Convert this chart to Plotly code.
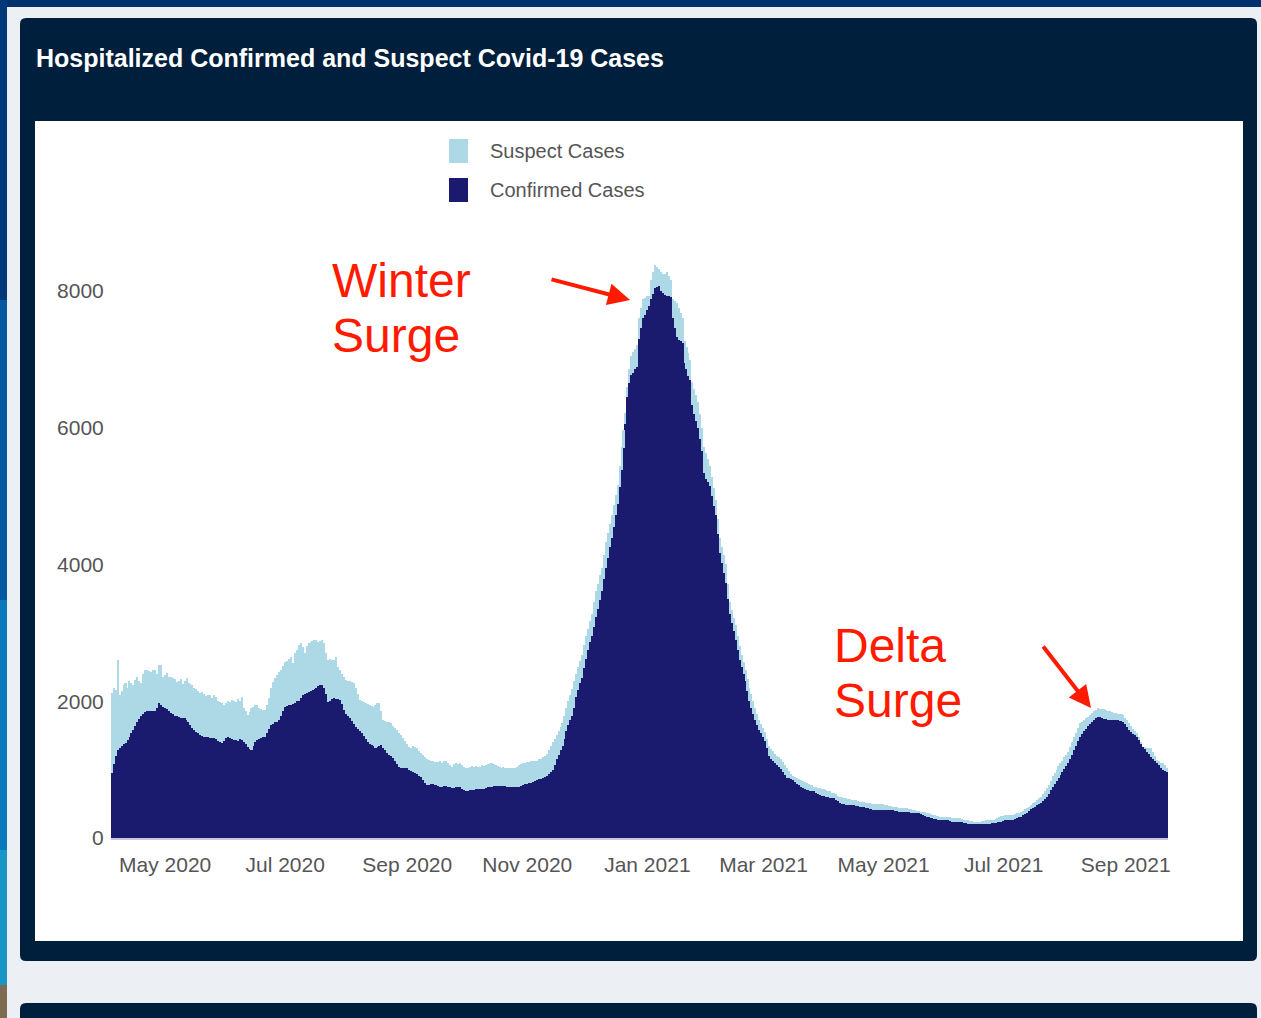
import numpy as np
import pandas as pd
import plotly.graph_objects as go

# ---------------- data (daily values) ----------------
start_date = "2020-04-04"

confirmed_cases = [
    950, 1080, 1200, 1290, 1320, 1350, 1380, 1390, 1430, 1480,
    1530, 1580, 1640, 1700, 1740, 1780, 1810, 1840, 1850, 1850,
    1850, 1860, 1860, 1900, 1970, 1950, 1920, 1900, 1880, 1850,
    1830, 1810, 1790, 1780, 1770, 1760, 1760, 1750, 1720, 1690,
    1650, 1610, 1580, 1550, 1530, 1510, 1490, 1480, 1470, 1470,
    1460, 1460, 1460, 1440, 1420, 1400, 1390, 1420, 1460, 1480,
    1460, 1440, 1430, 1430, 1420, 1440, 1430, 1400, 1370, 1330,
    1300, 1290, 1340, 1400, 1430, 1450, 1460, 1470, 1480, 1530,
    1590, 1650, 1670, 1690, 1700, 1720, 1790, 1860, 1920, 1930,
    1940, 1940, 1960, 1980, 2000, 2010, 2040, 2090, 2100, 2120,
    2140, 2150, 2160, 2180, 2200, 2220, 2240, 2230, 2190, 2100,
    1990, 2010, 2030, 2040, 2030, 2030, 2020, 1960, 1870, 1820,
    1780, 1750, 1710, 1660, 1620, 1590, 1560, 1530, 1490, 1440,
    1400, 1380, 1360, 1340, 1320, 1330, 1350, 1360, 1320, 1280,
    1240, 1220, 1200, 1170, 1130, 1080, 1040, 1030, 1030, 1020,
    1020, 1000, 980, 960, 950, 930, 910, 890, 850, 810,
    780, 780, 790, 790, 780, 770, 760, 750, 750, 760,
    760, 750, 740, 730, 730, 740, 740, 740, 720, 700,
    690, 690, 700, 700, 700, 710, 710, 710, 720, 720,
    730, 740, 750, 750, 760, 760, 760, 760, 760, 760,
    760, 750, 750, 740, 740, 740, 750, 750, 760, 770,
    790, 790, 800, 810, 820, 830, 850, 860, 860, 870,
    890, 900, 930, 960, 990, 1060, 1150, 1220, 1290, 1345,
    1450, 1565, 1650, 1720, 1785, 1900, 2060, 2160, 2260, 2340,
    2480, 2620, 2750, 2860, 2950, 3080, 3230, 3350, 3480, 3610,
    3780, 3950, 4100, 4250, 4390, 4550, 4720, 4880, 5130, 5380,
    5700, 6050, 6450, 6650, 6770, 6800, 6850, 6890, 7300, 7450,
    7600, 7650, 7720, 7770, 7880, 7950, 8040, 8060, 8070, 8000,
    7960, 7940, 7930, 7920, 7910, 7600, 7450, 7330, 7280, 7260,
    7240, 6940, 6850, 6760, 6690, 6330, 6200, 6100, 6000, 5830,
    5660, 5330, 5250, 5200, 5140, 5000, 4860, 4720, 4450, 4170,
    4020, 3880, 3730, 3500, 3280, 3150, 3020, 2890, 2750, 2600,
    2500, 2400, 2300, 2150, 2000, 1900, 1820, 1730, 1650, 1580,
    1530, 1480, 1420, 1310, 1200, 1160, 1130, 1100, 1070, 1040,
    1010, 960, 920, 880, 870, 860, 850, 820, 790, 770,
    750, 730, 720, 700, 700, 690, 680, 680, 660, 640,
    630, 620, 610, 600, 595, 590, 585, 585, 560, 535,
    510, 500, 490, 480, 480, 480, 480, 480, 470, 465,
    460, 455, 450, 445, 440, 430, 420, 410, 410, 410,
    410, 410, 410, 410, 410, 410, 410, 410, 400, 390,
    385, 385, 385, 385, 380, 375, 370, 370, 365, 360,
    360, 345, 330, 315, 310, 305, 295, 290, 285, 275,
    270, 265, 265, 265, 265, 260, 250, 240, 240, 240,
    240, 240, 230, 220, 215, 210, 210, 205, 205, 205,
    205, 205, 205, 205, 205, 205, 210, 215, 215, 225,
    240, 240, 240, 250, 260, 265, 265, 270, 270, 280,
    290, 300, 310, 330, 350, 370, 395, 420, 440, 460,
    485, 500, 510, 540, 570, 600, 650, 700, 750, 790,
    830, 880, 920, 960, 1010, 1050, 1095, 1160, 1220, 1290,
    1350, 1420, 1480, 1520, 1560, 1600, 1630, 1670, 1700, 1725,
    1750, 1775, 1770, 1760, 1740, 1735, 1730, 1725, 1725, 1725,
    1725, 1720, 1715, 1710, 1700, 1660, 1620, 1580, 1550, 1520,
    1500, 1480, 1430, 1380, 1335, 1300, 1260, 1230, 1190, 1160,
    1120, 1090, 1060, 1030, 995, 980, 970,
]

# top of each stacked bar (confirmed + suspect)
total_hospitalized = [
    2120, 2200, 2160, 2600, 2090, 2150, 2240, 2270, 2200, 2290,
    2260, 2240, 2310, 2350, 2300, 2270, 2400, 2460, 2450, 2440,
    2430, 2450, 2450, 2400, 2530, 2530, 2350, 2380, 2410, 2360,
    2350, 2340, 2330, 2280, 2300, 2320, 2250, 2300, 2340, 2270,
    2250, 2230, 2190, 2180, 2150, 2120, 2130, 2100, 2080, 2090,
    2090, 2050, 2090, 2060, 2000, 1990, 1970, 1950, 1980, 2010,
    1990, 2020, 2010, 1990, 2030, 2000, 2060, 1900, 1850, 1800,
    1840, 1900, 1920, 1940, 1940, 1900, 1880, 1870, 1870, 1940,
    2050, 2200, 2280, 2340, 2380, 2430, 2450, 2520, 2570, 2590,
    2620, 2650, 2560, 2700, 2750, 2820, 2850, 2790, 2700, 2800,
    2850, 2870, 2880, 2900, 2890, 2860, 2880, 2900, 2850, 2700,
    2600, 2620, 2600, 2600, 2640, 2500, 2450, 2400, 2350, 2310,
    2300, 2290, 2280, 2270, 2200, 2100, 2020, 2000, 1990, 1970,
    1960, 1940, 1930, 1920, 1950, 1970, 1970, 1850, 1720, 1710,
    1700, 1690, 1680, 1640, 1610, 1580, 1540, 1500, 1460, 1420,
    1380, 1330, 1320, 1340, 1330, 1320, 1270, 1240, 1210, 1180,
    1160, 1140, 1130, 1120, 1110, 1110, 1110, 1120, 1100, 1120,
    1130, 1100, 1060, 1040, 1080, 1090, 1080, 1100, 1060, 1040,
    1020, 1030, 1040, 1050, 1040, 1050, 1040, 1040, 1060, 1050,
    1070, 1080, 1090, 1100, 1080, 1060, 1050, 1040, 1030, 1040,
    1030, 1020, 1020, 1030, 1020, 1020, 1040, 1060, 1080, 1100,
    1100, 1110, 1110, 1120, 1120, 1130, 1130, 1150, 1160, 1180,
    1200, 1230, 1280, 1340, 1400, 1450, 1500, 1560, 1620, 1675,
    1780, 1900, 2000, 2090, 2180, 2290, 2400, 2500, 2590, 2680,
    2820, 2950, 3060, 3170, 3280, 3450, 3610, 3720, 3840, 3950,
    4140, 4330, 4460, 4590, 4720, 4870, 5010, 5160, 5440, 5720,
    5970, 6220, 6600, 6850, 7050, 7100, 7150, 7210, 7600, 7750,
    7880, 7900, 7920, 7930, 8160, 8270, 8380, 8350, 8320, 8270,
    8250, 8240, 8270, 8220, 8160, 7880, 7850, 7820, 7750, 7680,
    7600, 7270, 7180, 7090, 6990, 6660, 6570, 6480, 6380, 6200,
    6000, 5720, 5630, 5540, 5440, 5270, 5110, 4940, 4670, 4390,
    4260, 4130, 4000, 3720, 3450, 3330, 3220, 3110, 2950, 2800,
    2680, 2570, 2450, 2330, 2200, 2100, 2000, 1900, 1820, 1730,
    1670, 1610, 1550, 1450, 1345, 1300, 1270, 1230, 1200, 1180,
    1150, 1110, 1060, 1020, 980, 940, 900, 890, 880, 860,
    850, 830, 820, 800, 790, 780, 770, 750, 745, 735,
    725, 720, 710, 700, 690, 680, 665, 655, 640, 620,
    605, 595, 590, 580, 575, 570, 560, 555, 550, 540,
    530, 525, 520, 515, 510, 505, 500, 497, 500, 500,
    500, 495, 490, 485, 480, 475, 470, 460, 455, 450,
    445, 445, 440, 438, 435, 430, 420, 410, 405, 395,
    390, 385, 380, 375, 370, 360, 345, 336, 330, 320,
    315, 310, 310, 310, 310, 305, 300, 295, 290, 290,
    290, 290, 280, 270, 265, 260, 250, 245, 240, 240,
    240, 240, 245, 250, 260, 265, 265, 270, 270, 280,
    295, 310, 315, 325, 330, 336, 336, 336, 336, 345,
    360, 370, 385, 400, 420, 435, 460, 485, 510, 530,
    560, 580, 605, 640, 680, 725, 780, 840, 900, 950,
    1000, 1050, 1090, 1130, 1180, 1220, 1260, 1330, 1400, 1480,
    1540, 1610, 1675, 1700, 1730, 1750, 1775, 1800, 1825, 1850,
    1870, 1895, 1890, 1885, 1880, 1870, 1860, 1850, 1840, 1830,
    1825, 1820, 1815, 1810, 1800, 1760, 1720, 1675, 1640, 1600,
    1570, 1530, 1480, 1400, 1335, 1330, 1320, 1315, 1310, 1250,
    1200, 1140, 1120, 1100, 1090, 1060, 1020,
]

y_tick_values = [0, 2000, 4000, 6000, 8000]
x_tick_start = "2020-05-01"
title_text = "Hospitalized Confirmed and Suspect Covid-19 Cases"
legend_labels = ["Suspect Cases", "Confirmed Cases"]
callout_lines = [["Winter", "Surge"], ["Delta", "Surge"]]

# ---------------- derived series ----------------
n = min(len(confirmed_cases), len(total_hospitalized))
conf = np.array(confirmed_cases[:n], dtype=float)
tot = np.array(total_hospitalized[:n], dtype=float)
suspect_cases = np.clip(tot - conf, 0, None)
dates = pd.date_range(start_date, periods=n, freq="D")

# ---------------- geometry helpers (page pixels -> paper coords) ----------------
FW, FH = 1261, 1018
PL, PR, PT, PB = 111, 1168, 236, 838


def px(x):
    return (x - PL) / (PR - PL)


def py(y):
    return (PB - y) / (PB - PT)


def rect(x0, y0, x1, y1, color):
    return dict(type="rect", xref="paper", yref="paper", layer="below",
                x0=px(x0), x1=px(x1), y0=py(y1), y1=py(y0),
                fillcolor=color, line=dict(width=0))


def rrect(x0, y0, x1, y1, r, color):
    pts = [
        ("M", x0 + r, y0), ("L", x1 - r, y0), ("Q", x1, y0, x1, y0 + r),
        ("L", x1, y1 - r), ("Q", x1, y1, x1 - r, y1), ("L", x0 + r, y1),
        ("Q", x0, y1, x0, y1 - r), ("L", x0, y0 + r), ("Q", x0, y0, x0 + r, y0),
    ]
    s = ""
    for p in pts:
        if p[0] == "Q":
            s += f"Q{px(p[1]):.6f},{py(p[2]):.6f} {px(p[3]):.6f},{py(p[4]):.6f} "
        else:
            s += f"{p[0]}{px(p[1]):.6f},{py(p[2]):.6f} "
    s += "Z"
    return dict(type="path", xref="paper", yref="paper", layer="below",
                path=s, fillcolor=color, line=dict(width=0))


NAVY = "#001f3d"
GRAY_BG = "#eceff4"
DARK_BAR = "#1a1a6e"
LIGHT_BAR = "#add8e6"
TXT = "#555555"
RED = "#ff1a00"
SANS = "Liberation Sans, Arial, sans-serif"

shapes = [
    rect(0, 0, FW, 7, "#00306e"),
    rect(0, 0, 7, 300, "#00387a"),
    rect(0, 300, 7, 600, "#0558a0"),
    rect(0, 600, 7, 850, "#0a78bc"),
    rect(0, 850, 7, 985, "#1996c6"),
    rect(0, 985, 7, FH, "#7d6b52"),
    rrect(20, 18, 1257, 961, 6, NAVY),
    rect(35, 121, 1243, 941, "#ffffff"),
    rrect(20, 1003, 1257, FH + 10, 6, NAVY),
    # legend swatches
    rect(449, 139, 468, 163, LIGHT_BAR),
    rect(449, 178, 468, 202, DARK_BAR),
]

fig = go.Figure()
fig.add_trace(go.Bar(x=dates, y=conf, name=legend_labels[1],
                     marker=dict(color=DARK_BAR, line=dict(width=0))))
fig.add_trace(go.Bar(x=dates, y=suspect_cases, name=legend_labels[0],
                     marker=dict(color=LIGHT_BAR, line=dict(width=0))))


def text_at(t, x, y, size, color, anchor="middle", bold=False):
    return dict(text=f"<b>{t}</b>" if bold else t, xref="paper", yref="paper",
                x=px(x), y=py(y), xanchor="left", yanchor=anchor, showarrow=False,
                font=dict(family=SANS, size=size, color=color))


annotations = [
    text_at(title_text, 34, 58, 25, "#ffffff", bold=True),
    text_at(legend_labels[0], 488, 151, 20, TXT),
    text_at(legend_labels[1], 488, 190, 20, TXT),
    text_at(callout_lines[0][0], 330, 252, 48, RED, anchor="top"),
    text_at(callout_lines[0][1], 330, 307, 48, RED, anchor="top"),
    text_at(callout_lines[1][0], 832, 617, 48, RED, anchor="top"),
    text_at(callout_lines[1][1], 832, 672, 48, RED, anchor="top"),
    # arrows
    dict(text="", xref="paper", yref="paper", x=px(630), y=py(300),
         ax=550 - 630, ay=279 - 300, showarrow=True, arrowhead=2, arrowsize=1.1,
         arrowwidth=4, arrowcolor=RED, standoff=0),
    dict(text="", xref="paper", yref="paper", x=px(1091), y=py(708),
         ax=1042 - 1091, ay=645 - 708, showarrow=True, arrowhead=2, arrowsize=1.1,
         arrowwidth=4, arrowcolor=RED, standoff=0),
]

x0 = dates[0] - pd.Timedelta(hours=12)
x1 = dates[-1] + pd.Timedelta(hours=12)

fig.update_layout(
    width=FW, height=FH,
    margin=dict(l=PL, r=FW - PR, t=PT, b=FH - PB, pad=0),
    paper_bgcolor=GRAY_BG, plot_bgcolor="#ffffff",
    barmode="stack", bargap=0.22,
    showlegend=False,
    shapes=shapes, annotations=annotations,
    xaxis=dict(type="date", range=[x0, x1], tick0=x_tick_start, dtick="M2",
               tickformat="%b %Y", showgrid=False, zeroline=False,
               showline=True, linecolor="#c8c8dc", linewidth=2,
               ticks="outside", ticklen=7, tickcolor="rgba(0,0,0,0)",
               tickfont=dict(family=SANS, size=21, color=TXT),
               automargin=False, fixedrange=True),
    yaxis=dict(range=[0, 8800], tickvals=y_tick_values, showgrid=False,
               zeroline=False, showline=False,
               ticks="outside", ticklen=2, tickcolor="rgba(0,0,0,0)",
               tickfont=dict(family=SANS, size=21, color=TXT),
               automargin=False, fixedrange=True),
)

fig.write_html("out.html", config={"displayModeBar": False},
               post_script="document.body.style.margin='0px';document.body.style.overflow='hidden';")
